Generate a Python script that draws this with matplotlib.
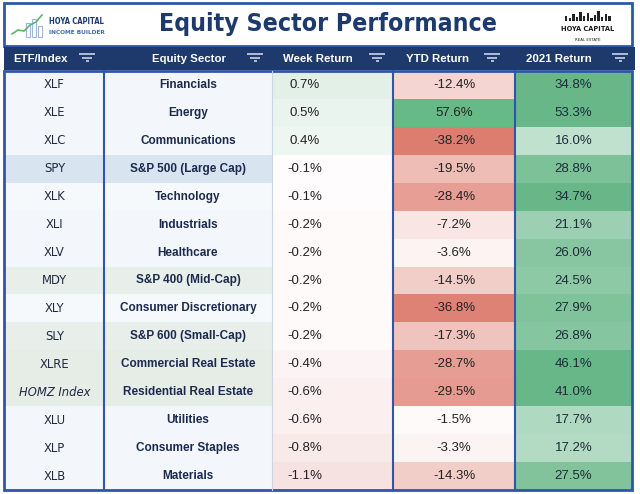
import numpy as np
import matplotlib.pyplot as plt
from matplotlib.patches import Rectangle
from matplotlib import font_manager
from matplotlib.font_manager import FontProperties

tickers = ['XLF', 'XLE', 'XLC', 'SPY', 'XLK', 'XLI', 'XLV', 'MDY', 'XLY', 'SLY',
           'XLRE', 'HOMZ Index', 'XLU', 'XLP', 'XLB']
sectors = ['Financials', 'Energy', 'Communications', 'S&P 500 (Large Cap)', 'Technology',
           'Industrials', 'Healthcare', 'S&P 400 (Mid-Cap)', 'Consumer Discretionary',
           'S&P 600 (Small-Cap)', 'Commercial Real Estate', 'Residential Real Estate',
           'Utilities', 'Consumer Staples', 'Materials']
week = [0.7, 0.5, 0.4, -0.1, -0.1, -0.2, -0.2, -0.2, -0.2, -0.2, -0.4, -0.6, -0.6, -0.8, -1.1]
ytd = [-12.4, 57.6, -38.2, -19.5, -28.4, -7.2, -3.6, -14.5, -36.8, -17.3, -28.7, -29.5, -1.5, -3.3, -14.3]
ret2021 = [34.8, 53.3, 16.0, 28.8, 34.7, 21.1, 26.0, 24.5, 27.9, 26.8, 46.1, 41.0, 17.7, 17.2, 27.5]
headers = ['ETF/Index', 'Equity Sector', 'Week Return', 'YTD Return', '2021 Return']

# look for a condensed sans face; fall back to Liberation Sans / DejaVu
fonts = font_manager.fontManager.ttflist
names = {f.name for f in fonts}
sans = 'Liberation Sans' if 'Liberation Sans' in names else 'DejaVu Sans'
cond = [f for f in fonts if ('Narrow' in f.name or 'ondensed' in f.name
        or str(f.stretch) in ('condensed', 'semi-condensed', 'extra-condensed', 'ultra-condensed'))
        and 'Serif' not in f.name and 'Mono' not in f.name]
cond_bold = [f for f in cond if f.style == 'normal' and f.weight in ('bold', 700, 'semibold', 600)]
cond_reg = [f for f in cond if f.style == 'normal' and f.weight in ('normal', 'regular', 400, 'book')]
cond_it = [f for f in cond if f.style in ('italic', 'oblique') and f.weight in ('normal', 'regular', 400, 'book')]

def fp(lst, weight='normal', style='normal'):
    if lst:
        return FontProperties(fname=lst[0].fname)
    return FontProperties(family=sans, weight=weight, style=style)

f_title = fp(cond_bold, 'bold')
f_tick = fp(cond_reg)
f_tick_it = fp(cond_it, style='italic')

navy = '#1e3a6d'
border = '#2f56a8'
white = np.array([1.0, 1.0, 1.0])

def mix(c, t):
    c = np.array(c) / 255.0
    t = min(max(t, 0), 1)
    return white + (c - white) * t

def div_color(v, vmin, vmax, neg, pos):
    if v < 0:
        return mix(neg, v / vmin)
    return mix(pos, v / vmax)

# row shading of the label columns (index rows / real estate rows)
row_shade = ['#f3f7fb', '#f3f7fb', '#f3f7fb', '#d9e4f1', '#f6f9fc', '#f3f7fb', '#f3f7fb',
             '#e8eee9', '#f6f9fc', '#e8eee9', '#e6ede7', '#e6ede7', '#f3f7fb', '#f3f7fb', '#f3f7fb']

fig = plt.figure(figsize=(6.4, 4.94), dpi=100)
ax = fig.add_axes([0, 0, 1, 1])
ax.set_xlim(0, 640)
ax.set_ylim(494, 0)
ax.axis('off')
renderer = fig.canvas.get_renderer()

def fit(t, width):
    while t.get_window_extent(renderer).width > width and t.get_fontsize() > 3:
        t.set_fontsize(t.get_fontsize() * 0.96)
    return t

def fitted_size(label, props, start, width):
    probe = ax.text(0, 0, label, fontproperties=props)
    probe.set_fontsize(start)
    fit(probe, width)
    size = probe.get_fontsize()
    probe.remove()
    return size

edges = [5, 104, 272, 393, 515, 632]
top, bottom = 71, 490
n = len(tickers)
rh = (bottom - top) / n

# title area
ax.add_patch(Rectangle((4, 3), 628, 43, facecolor='white', edgecolor=border, lw=2))
t = ax.text(328, 24, 'Equity Sector Performance', ha='center', va='center',
            fontproperties=f_title, color=navy)
t.set_fontsize(28)
if not cond_bold:
    t.set_fontweight('bold')
fit(t, 345)

# left logo
xs = np.array([12, 18, 24, 30, 36, 42])
ax.plot(xs, [34, 30, 31, 25, 22, 15], color='#5fb36b', lw=1.2)
for bx, bh in zip([26, 32, 38], [14, 18, 11]):
    ax.add_patch(Rectangle((bx, 37 - bh), 4, bh, facecolor='none', edgecolor='#9fb6d6', lw=0.8))
t = ax.text(49, 22, 'HOYA CAPITAL', ha='left', va='center',
            fontproperties=f_title, color=navy)
t.set_fontsize(11)
fit(t, 56)
t = ax.text(49, 33, 'INCOME BUILDER', ha='left', va='center',
            fontproperties=f_title, color='#3f6fb5')
t.set_fontsize(7)
fit(t, 56)

# right logo
sky = [5, 3, 7, 4, 9, 5, 8, 3, 6, 10, 4, 7, 5]
for i, h in enumerate(sky):
    ax.add_patch(Rectangle((565 + i * 3.6, 21 - h), 2.4, h, facecolor='#222222', lw=0))
t = ax.text(588, 29, 'HOYA CAPITAL', ha='center', va='center',
            fontproperties=f_title, color='#1a1a1a')
t.set_fontsize(12)
fit(t, 54)
t = ax.text(588, 40, 'REAL ESTATE', ha='center', va='center',
            fontproperties=f_tick, color='#1a1a1a')
t.set_fontsize(5)
fit(t, 26)

# header band
ax.add_patch(Rectangle((4, 47), 631, 23, facecolor=navy, lw=0))
head_x = [40, 189, 318, 438, 559]
icon_x = [87, 255, 377, 492, 620]
for hx, ix, lab in zip(head_x, icon_x, headers):
    ax.text(hx, 59, lab, ha='center', va='center', fontsize=8.2, fontweight='bold',
            family=sans, color='white')
    for k, w in enumerate([8, 5, 1.5]):
        ax.plot([ix - w, ix + w], [54.5 + k * 3.5] * 2, color='#d6e2f2', lw=1.1,
                solid_capstyle='butt')

# ticker font sizes, so the labels take the width they have in the reference
size_it = fitted_size('HOMZ Index', f_tick_it, 14, 72)
size_reg = fitted_size('XLRE', f_tick, 14, 31)

# cells
for i in range(n):
    y0 = top + i * rh
    yc = y0 + rh / 2
    ax.add_patch(Rectangle((edges[0], y0), edges[2] - edges[0], rh, facecolor=row_shade[i], lw=0))
    c_week = div_color(week[i], min(week), max(week), (247, 226, 226), (226, 240, 231))
    c_ytd = div_color(ytd[i], min(ytd), max(ytd), (221, 125, 112), (103, 186, 136))
    s = ((ret2021[i] - min(ret2021)) / (35 - min(ret2021))) ** 0.7
    c_21 = mix((104, 183, 136), 0.42 + 0.58 * min(s, 1))
    for j, c in zip(range(2, 5), [c_week, c_ytd, c_21]):
        ax.add_patch(Rectangle((edges[j], y0), edges[j + 1] - edges[j], rh, facecolor=c, lw=0))
    italic = 'Index' in tickers[i]
    t = ax.text((edges[0] + edges[1]) / 2, yc, tickers[i], ha='center', va='center',
                fontproperties=f_tick_it if italic else f_tick, color='#1f2a44')
    t.set_fontsize(size_it if italic else size_reg)
    ax.text((edges[1] + edges[2]) / 2, yc, sectors[i], ha='center', va='center', fontsize=8.5,
            fontweight='bold', family=sans, color='#1b2a4e')
    ax.text(305, yc, f'{week[i]:.1f}%', ha='center', va='center', fontsize=9.5, family=sans,
            color='#222222')
    ax.text((edges[3] + edges[4]) / 2, yc, f'{ytd[i]:.1f}%', ha='center', va='center',
            fontsize=9.5, family=sans, color='#222222')
    ax.text((edges[4] + edges[5]) / 2, yc, f'{ret2021[i]:.1f}%', ha='center', va='center',
            fontsize=9.5, family=sans, color='#1d2b3a')

# grid lines and frame
for x in [104, 393, 515]:
    ax.plot([x, x], [top, bottom], color=border, lw=1.5)
ax.plot([272, 272], [top, bottom], color='#c9d6e8', lw=0.8)
ax.add_patch(Rectangle((4, top), 628, bottom - top, facecolor='none', edgecolor=border, lw=2))

fig.savefig('out.png', dpi=100)
